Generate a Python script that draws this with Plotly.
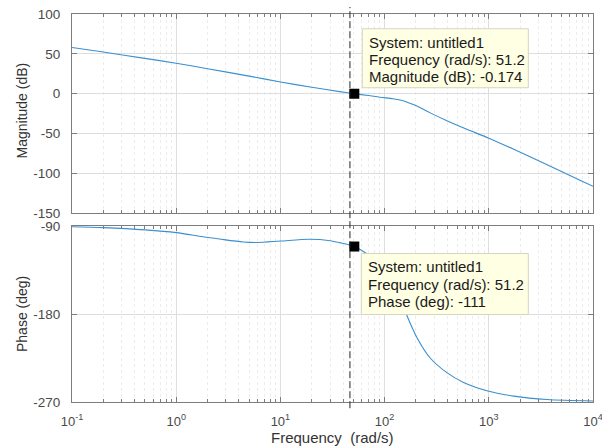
import math
import plotly.graph_objects as go

# Open-loop frequency response of "untitled1"
freq_mag = [0.1, 0.2, 0.5, 1, 2, 5, 10, 20, 37, 51.2, 70, 90, 120, 141, 165,
            189, 230, 274, 396, 616, 1000, 1738, 3630, 7585, 10000]
mag_db = [58.0, 52.2, 44.3, 38.2, 31.3, 22.0, 14.6, 8.0, 2.5, -0.174, -2.4,
          -4.5, -6.4, -8.0, -10.8, -13.8, -19.0, -24.2, -34.0, -44.8, -56.0,
          -70.0, -89.3, -109.2, -116.5]

freq_ph = [0.1, 0.2, 0.5, 1, 1.8, 2.6, 4.4, 6, 10, 19, 30, 37, 51.2, 62.5, 80,
           100, 125, 145, 160, 204, 274, 396, 573, 1000, 1738, 3630, 10000]
phase_deg = [-90.7, -91.7, -94.0, -96.8, -101.0, -103.3, -106.3, -106.8,
             -105.4, -103.6, -105.0, -107.0, -111.0, -116.0, -124.0, -136.0,
             -153.0, -167.0, -179.0, -204.0, -225.0, -240.0, -250.0, -259.0,
             -264.0, -267.5, -269.0]

# Data tip
tip_freq = 51.2
tip_mag = -0.174
tip_phase = -111
cursor_freq = 46.5

# Axis ticks
x_tickvals = [0.1, 1, 10, 100, 1000, 10000]
x_ticktext = ["10<sup>-1</sup>", "10<sup>0</sup>", "10<sup>1</sup>",
              "10<sup>2</sup>", "10<sup>3</sup>", "10<sup>4</sup>"]
mag_ticks = [100, 50, 0, -50, -100, -150]
phase_ticks = [-90, -180, -270]

FONT = "Liberation Sans, Arial, Helvetica, sans-serif"
LINE_BLUE = "#3a8fcf"
AXIS_GREY = "#7d7d7d"
TEXT_GREY = "#4a4a4a"

minor_vals = [m * 10 ** e for e in range(-1, 4) for m in range(2, 10)]

fig = go.Figure()

fig.add_trace(go.Scatter(x=freq_mag, y=mag_db, mode="lines",
                         line=dict(color=LINE_BLUE, width=1.1, shape="spline",
                                   smoothing=0.8),
                         xaxis="x", yaxis="y", showlegend=False,
                         hoverinfo="skip"))
fig.add_trace(go.Scatter(x=freq_ph, y=phase_deg, mode="lines",
                         line=dict(color=LINE_BLUE, width=1.1, shape="spline",
                                   smoothing=0.8),
                         xaxis="x2", yaxis="y2", showlegend=False,
                         hoverinfo="skip"))

# Data tip markers
fig.add_trace(go.Scatter(x=[tip_freq], y=[tip_mag], mode="markers",
                         marker=dict(symbol="square", size=10, color="black"),
                         xaxis="x", yaxis="y", showlegend=False))
fig.add_trace(go.Scatter(x=[tip_freq], y=[tip_phase], mode="markers",
                         marker=dict(symbol="square", size=10, color="black"),
                         xaxis="x2", yaxis="y2", showlegend=False))

common_x = dict(
    type="log", range=[-1, 4], showline=True, linecolor=AXIS_GREY,
    linewidth=1, mirror="allticks", ticks="inside", ticklen=5,
    tickcolor=AXIS_GREY, tickvals=x_tickvals, showgrid=True,
    gridcolor="#dedede", gridwidth=1, zeroline=False, automargin=False,
    ticklabeloverflow="allow",
    minor=dict(tickvals=minor_vals, ticks="inside", ticklen=3,
               tickcolor=AXIS_GREY, showgrid=True, gridcolor="#ececec",
               griddash="dot", gridwidth=1),
)
common_y = dict(
    showline=True, linecolor=AXIS_GREY, linewidth=1, mirror="allticks",
    ticks="inside", ticklen=5, tickcolor=AXIS_GREY, showgrid=True,
    gridcolor="#dedede", gridwidth=1, zeroline=False, automargin=False,
    tickfont=dict(family=FONT, size=13.5, color=TEXT_GREY),
    ticklabelstandoff=8,
)

fig.update_layout(
    width=602, height=446,
    margin=dict(l=72, r=9, t=14, b=44),
    paper_bgcolor="white", plot_bgcolor="white",
    font=dict(family=FONT, color=TEXT_GREY),
    xaxis=dict(common_x, domain=[0, 1], anchor="y", showticklabels=False),
    yaxis=dict(common_y, domain=[0.4871, 1], anchor="x", range=[-150, 100],
               tickvals=mag_ticks, ticktext=[str(v) for v in mag_ticks]),
    xaxis2=dict(common_x, domain=[0, 1], anchor="y2", matches="x",
                ticktext=x_ticktext,
                tickfont=dict(family=FONT, size=13, color=TEXT_GREY),
                ticklabelstandoff=7),
    yaxis2=dict(common_y, domain=[0, 0.4536], anchor="x2",
                range=[-270, -90], tickvals=phase_ticks,
                ticktext=[str(v) for v in phase_ticks]),
)

# Cursor line through both panes
fig.add_shape(type="line", xref="x", yref="paper",
              x0=cursor_freq, x1=cursor_freq, y0=-0.016, y1=1.018,
              line=dict(color="#222222", width=1, dash="7px,3px"))

# Axis titles
fig.add_annotation(text="Magnitude (dB)", xref="paper", yref="paper",
                   x=0, y=(1 + 0.4871) / 2, xshift=-50, yshift=3,
                   xanchor="center", yanchor="middle",
                   textangle=-90, showarrow=False,
                   font=dict(family=FONT, size=14, color="#333333"))
fig.add_annotation(text="Phase (deg)", xref="paper", yref="paper",
                   x=0, y=0.4536 / 2, xshift=-50, textangle=-90,
                   xanchor="center", yanchor="middle",
                   showarrow=False,
                   font=dict(family=FONT, size=14, color="#333333"))
fig.add_annotation(text="Frequency  (rad/s)", xref="paper", yref="paper",
                   x=0.5, y=0, yshift=-35, showarrow=False,
                   xanchor="center", yanchor="middle",
                   font=dict(family=FONT, size=15, color="#333333"))

# Data tip boxes
TIP_BG = "#ffffe3"
TIP_BORDER = "#d4d4c4"
fig.add_shape(type="rect", xref="x", yref="y", xsizemode="pixel",
              ysizemode="pixel", xanchor=tip_freq, yanchor=tip_mag,
              x0=8, x1=174, y0=6, y1=65, fillcolor=TIP_BG,
              line=dict(color=TIP_BORDER, width=1), layer="above")
fig.add_shape(type="rect", xref="x2", yref="y2", xsizemode="pixel",
              ysizemode="pixel", xanchor=tip_freq, yanchor=tip_phase,
              x0=7, x1=174, y0=-7, y1=-68, fillcolor=TIP_BG,
              line=dict(color=TIP_BORDER, width=1), layer="above")

tip_logx = math.log10(tip_freq)
mag_lines = ["System: untitled1", f"Frequency (rad/s): {tip_freq}",
             f"Magnitude (dB): {tip_mag}"]
ph_lines = ["System: untitled1", f"Frequency (rad/s): {tip_freq}",
            f"Phase (deg): {tip_phase}"]
for i, line in enumerate(mag_lines):
    fig.add_annotation(text=line, xref="x", yref="y",
                       x=tip_logx, y=tip_mag, showarrow=False,
                       xanchor="left", yanchor="middle",
                       xshift=13, yshift=51.5 - 17.3 * i,
                       font=dict(family=FONT, size=15, color="#1a1a1a"))
for i, line in enumerate(ph_lines):
    fig.add_annotation(text=line, xref="x2", yref="y2",
                       x=tip_logx, y=tip_phase, showarrow=False,
                       xanchor="left", yanchor="middle",
                       xshift=12, yshift=-20 - 17.5 * i,
                       font=dict(family=FONT, size=15, color="#1a1a1a"))

fig.write_html("out.html")
